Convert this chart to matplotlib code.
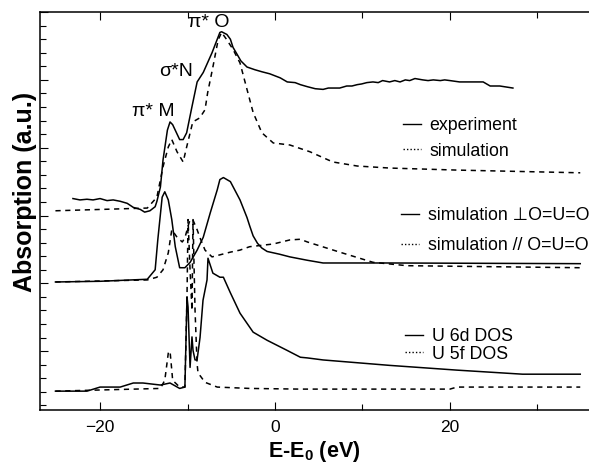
import matplotlib
matplotlib.use("Agg")
import matplotlib.pyplot as plt
from matplotlib.lines import Line2D
from matplotlib.ticker import MultipleLocator

plt.rcParams["font.family"] = ["Liberation Sans", "DejaVu Sans"]
plt.rcParams["mathtext.fontset"] = "custom"
plt.rcParams["mathtext.bf"] = "Liberation Sans:bold"
plt.rcParams["mathtext.rm"] = "Liberation Sans"

# experiment (top, solid)
exp_x = [-23.1, -22.3, -21.5, -20.8, -20.0, -19.2, -18.5, -17.7, -16.9, -16.2, -15.4, -14.9, -14.3,
         -13.7, -13.5, -13.1, -12.8, -12.3, -12.0, -11.7, -10.9, -10.5, -10.1, -9.5, -8.9, -8.2,
         -7.2, -6.3, -6.1, -5.8, -5.5, -5.1, -4.8, -4.3, -3.9, -3.2, -2.3, -1.5, -0.6, 0.6, 1.4,
         2.3, 2.9, 3.7, 4.6, 5.5, 6.1, 6.6, 7.4, 8.2, 8.8, 9.4, 9.9, 10.5, 11.2, 11.8, 12.3, 13.1,
         13.7, 14.3, 14.9, 15.4, 16.0, 16.9, 17.5, 18.1, 18.9, 19.4, 20.0, 21.1, 22.3, 23.8, 24.2,
         24.6, 25.7, 27.2]
exp_y = [3.25, 3.23, 3.24, 3.23, 3.25, 3.22, 3.23, 3.21, 3.18, 3.12, 3.09, 3.05, 3.07,
         3.13, 3.21, 3.42, 3.82, 4.26, 4.38, 4.34, 4.12, 4.12, 4.22, 4.60, 4.97, 5.11,
         5.40, 5.70, 5.71, 5.69, 5.67, 5.60, 5.48, 5.37, 5.28, 5.19, 5.15, 5.12, 5.09, 5.03, 4.97,
         4.96, 4.93, 4.90, 4.87, 4.86, 4.88, 4.88, 4.88, 4.91, 4.91, 4.93, 4.94, 4.96, 4.97, 4.96, 4.99, 4.97,
         4.99, 4.97, 5.00, 4.99, 5.02, 5.00, 4.99, 5.00, 4.99, 5.00, 4.99, 4.97, 4.97, 4.97, 4.94,
         4.91, 4.91, 4.88]

# simulation (top, dashed)
sim_x = [-25.1, -14.6, -13.5, -12.8, -12.2, -11.8, -11.2, -10.5, -10.1, -9.4, -8.6, -8.0, -7.7,
         -7.1, -6.5, -6.1, -5.5, -4.8, -4.0, -3.2, -2.5, -1.5, -0.2, 1.7, 4.0, 6.6, 9.4, 13.1,
         20.8, 34.9]
sim_y = [3.07, 3.11, 3.27, 3.72, 4.01, 4.12, 3.94, 3.79, 4.01, 4.38, 4.44, 4.56, 4.81,
         5.19, 5.59, 5.70, 5.59, 5.45, 5.25, 4.86, 4.52, 4.22, 4.07, 4.04, 3.94, 3.79, 3.73, 3.70,
         3.67, 3.63]

# simulation perpendicular to O=U=O (middle, solid)
perp_x = [-25.1, -20.0, -14.6, -13.7, -13.4, -12.9, -12.6, -12.2, -11.8, -11.4, -10.9, -10.3,
          -9.7, -8.9, -8.2, -7.4, -6.6, -6.3, -5.9, -5.1, -4.0, -3.2, -2.9, -2.5, -2.0, -1.5,
          -0.9, 0.5, 1.7, 3.7, 5.5, 13.1, 34.9]
perp_y = [2.02, 2.03, 2.06, 2.20, 2.64, 3.27, 3.35, 3.23, 2.94, 2.54, 2.23, 2.23,
          2.31, 2.49, 2.68, 3.04, 3.38, 3.53, 3.56, 3.50, 3.23, 2.97, 2.85, 2.70, 2.59, 2.52,
          2.47, 2.43, 2.39, 2.34, 2.30, 2.30, 2.29]

# simulation parallel to O=U=O (middle, dashed)
par_x = [-25.1, -14.6, -13.5, -12.8, -12.2, -11.8, -11.2, -10.6, -10.3, -9.9, -9.7, -9.4,
         -8.9, -8.6, -8.0, -7.2, -6.3, -5.1, -4.0, -2.9, -0.2, 1.7, 2.9, 3.7, 7.4, 11.2, 15.1,
         34.9]
par_y = [2.02, 2.05, 2.09, 2.20, 2.45, 2.79, 2.68, 2.61, 2.67, 2.86, 2.94, 2.94,
         2.79, 2.68, 2.49, 2.39, 2.42, 2.46, 2.49, 2.54, 2.58, 2.64, 2.65, 2.61, 2.46, 2.31, 2.26,
         2.23]

# U 6d DOS (bottom, solid)
d6_x = [-25.1, -21.5, -20.0, -17.7, -16.2, -15.1, -13.1, -12.0, -10.9, -10.3, -10.06, -9.94,
        -9.71, -9.49, -9.37, -9.14, -8.91, -8.57, -8.23, -7.77, -7.66, -7.1, -6.3, -5.9, -5.1,
        -4.0, -2.5, -0.9, 1.4, 2.9, 3.7, 5.5, 13.1, 20.8, 28.3, 34.9]
d6_y = [0.41, 0.41, 0.47, 0.47, 0.53, 0.53, 0.50, 0.53, 0.45, 0.47, 1.80, 1.65,
        0.76, 1.21, 1.01, 0.87, 0.87, 1.20, 1.75, 2.05, 2.37, 2.15, 2.09, 2.09, 1.86,
        1.56, 1.28, 1.16, 1.01, 0.91, 0.90, 0.87, 0.79, 0.72, 0.66, 0.66]

# U 5f DOS (bottom, dashed)
f5_x = [-25.1, -13.1, -12.6, -12.2, -12.0, -11.8, -11.7, -10.9, -10.3, -10.06, -9.94, -9.71,
        -9.49, -9.37, -9.14, -8.91, -8.8, -8.0, -6.6, -2.9, 2.9, 20.0, 20.8, 34.9]
f5_y = [0.41, 0.45, 0.57, 0.97, 1.00, 0.72, 0.57, 0.47, 0.47, 1.80, 2.94, 2.20,
        1.60, 2.94, 1.60, 0.82, 0.68, 0.54, 0.47, 0.45, 0.44, 0.44, 0.47, 0.47]

fig = plt.figure(figsize=(5.89, 4.65), dpi=100)
ax = fig.add_axes([0.068, 0.118, 0.932, 0.856])

lw = 1.1
dash = (0, (3.4, 3.0))
ax.plot(exp_x, exp_y, color="black", lw=lw)
ax.plot(sim_x, sim_y, color="black", lw=lw, linestyle=dash)
ax.plot(perp_x, perp_y, color="black", lw=lw)
ax.plot(par_x, par_y, color="black", lw=lw, linestyle=dash)
ax.plot(d6_x, d6_y, color="black", lw=lw)
ax.plot(f5_x, f5_y, color="black", lw=lw, linestyle=dash)

ax.set_xlim(-26.86, 35.9)
ax.set_ylim(0.13, 6.0)
ax.xaxis.set_major_locator(MultipleLocator(20))
ax.xaxis.set_minor_locator(MultipleLocator(10))
ax.yaxis.set_major_locator(MultipleLocator(1))
ax.yaxis.set_minor_locator(MultipleLocator(0.2))
ax.tick_params(which="both", direction="in", top=True, right=False, width=0.8)
ax.tick_params(which="major", length=6)
ax.tick_params(which="minor", length=4)
ax.tick_params(axis="x", labelsize=12.5, pad=7)
ax.tick_params(axis="y", labelleft=False)
ax.spines["right"].set_visible(False)
for s in ["left", "top", "bottom"]:
    ax.spines[s].set_linewidth(1.1)

ax.set_xlabel("E-E$_\\mathbf{0}$ (eV)", fontsize=15.5, fontweight="bold", labelpad=3)
ax.set_ylabel("Absorption (a.u.)", fontsize=18, fontweight="bold")
ax.yaxis.set_label_coords(-0.006, 0.548)

ax.text(-7.54, 5.84, "π* O", fontsize=14, ha="center", va="center")
ax.text(-11.31, 5.12, "σ*N", fontsize=14, ha="center", va="center")
ax.text(-13.94, 4.53, "π* M", fontsize=14, ha="center", va="center")

solid = Line2D([], [], color="black", lw=1.0)
dotted = Line2D([], [], color="black", lw=1.0, linestyle=(0, (1, 1.5)))
common = dict(frameon=False, fontsize=12.8, handlelength=1.0, handletextpad=0.5,
              borderpad=0, borderaxespad=0, loc="center left")

leg1 = ax.legend([solid, dotted], ["experiment", "simulation"],
                 bbox_to_anchor=(0.661, 0.683), labelspacing=0.5, **common)
ax.add_artist(leg1)
leg2 = ax.legend([solid, dotted], ["simulation \u22a5O=U=O", "simulation // O=U=O"],
                 bbox_to_anchor=(0.658, 0.451), labelspacing=0.7, **common)
ax.add_artist(leg2)
ax.legend([solid, dotted], ["U 6d DOS", "U 5f DOS"],
          bbox_to_anchor=(0.665, 0.163), labelspacing=0.05, **common)

fig.savefig("out.png", dpi=100)
